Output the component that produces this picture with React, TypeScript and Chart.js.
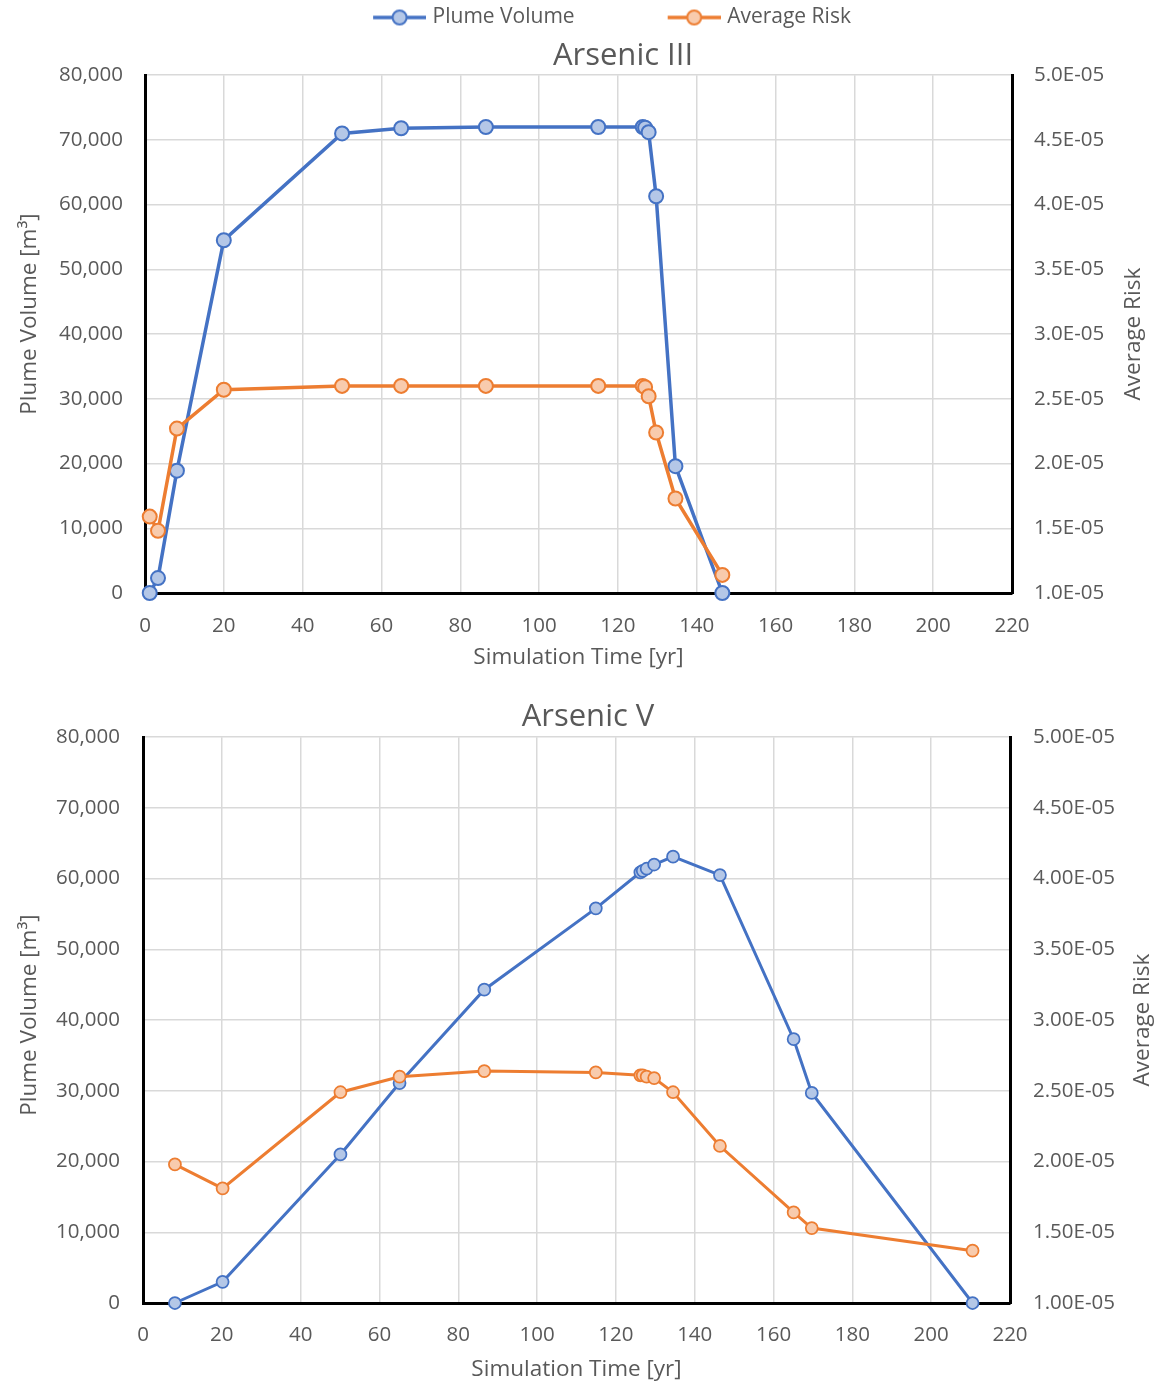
import React, { useEffect, useRef } from 'react';
import { Chart, registerables } from 'chart.js';

Chart.register(...registerables);

// ---------- Data: Arsenic III ----------
const TIME_III = [1.2, 3.3, 8.1, 20, 50, 65, 86.5, 115, 126.3, 126.9, 127.8, 129.7, 134.6, 146.5];
const VOLUME_III = [0, 2300, 18900, 54500, 71000, 71800, 72000, 72000, 72000, 71900, 71200, 61300, 19600, 0];
const RISK_III = [1.59e-5, 1.48e-5, 2.27e-5, 2.57e-5, 2.6e-5, 2.6e-5, 2.6e-5, 2.6e-5, 2.6e-5, 2.59e-5, 2.52e-5, 2.24e-5, 1.73e-5, 1.14e-5];

// ---------- Data: Arsenic V ----------
const TIME_V = [8.1, 20.2, 50.1, 65.1, 86.6, 114.9, 126.2, 126.8, 127.8, 129.7, 134.5, 146.4, 165.1, 169.7, 210.5];
const VOLUME_V = [0, 3000, 21000, 31100, 44300, 55800, 60900, 61100, 61400, 62000, 63100, 60500, 37300, 29700, 0];
const RISK_V = [1.98e-5, 1.81e-5, 2.49e-5, 2.6e-5, 2.64e-5, 2.63e-5, 2.61e-5, 2.61e-5, 2.6e-5, 2.59e-5, 2.49e-5, 2.11e-5, 1.64e-5, 1.53e-5, 1.37e-5];

// ---------- Axis ranges / tick steps ----------
const X_MAX = 220;
const X_STEP = 20;
const VOL_MAX = 80000;
const VOL_STEP = 10000;
const RISK_MIN = 1e-5;
const RISK_MAX = 5e-5;
const RISK_STEP = 5e-6;

const SERIES_NAMES = ['Plume Volume', 'Average Risk'];
const X_TITLE = 'Simulation Time [yr]';
const Y_TITLE = 'Plume Volume [m\u00B3]';
const Y1_TITLE = 'Average Risk';

// ---------- Styles ----------
const TEXT = '#595959';
const GRID = '#D9D9D9';
const BLUE = '#4472C4';
const BLUE_FILL = '#B4C7E7';
const ORANGE = '#ED7D31';
const ORANGE_FILL = '#F8CBAD';
const FONT = '"Open Sans", sans-serif';

function fmtRisk(v: number, d: number) {
  const [m, e] = v.toExponential(d).split('e');
  const n = Number(e);
  return `${m}E${n < 0 ? '-' : '+'}${String(Math.abs(n)).padStart(2, '0')}`;
}

const LEGEND_BOX = 117;
function makeIcon(color: string, fill: string) {
  const width = LEGEND_BOX + 8;
  const c = document.createElement('canvas');
  c.width = width;
  c.height = 20;
  const ctx = c.getContext('2d')!;
  const len = 53;
  const x0 = width - len;
  ctx.strokeStyle = color;
  ctx.lineWidth = 3.5;
  ctx.beginPath();
  ctx.moveTo(x0, 10);
  ctx.lineTo(width, 10);
  ctx.stroke();
  ctx.beginPath();
  ctx.arc(x0 + len / 2, 10, 7, 0, Math.PI * 2);
  ctx.fillStyle = fill;
  ctx.fill();
  ctx.lineWidth = 2;
  ctx.stroke();
  return c;
}

type Setup = {
  time: number[];
  volume: number[];
  risk: number[];
  title: string;
  titleDx: number;
  legend: boolean;
  layoutTop: number;
  titlePad: { top: number; bottom: number };
  riskDecimals: number;
  pointRadius: number;
  pointBorder: number;
  lineWidth: number;
  leftWidth: number;
  rightWidth: number;
  xHeight: number;
  xTickPad: number;
  xTitlePadBottom: number;
  yTickPad: number;
  y1TickPad: number;
  leftTitleOffset: number;
  leftTitleDy: number;
  rightTitleOffset: number;
  rightTitleDy: number;
};

const TOP: Setup = {
  time: TIME_III,
  volume: VOLUME_III,
  risk: RISK_III,
  title: 'Arsenic III',
  titleDx: 45,
  legend: true,
  layoutTop: -18,
  titlePad: { top: 0, bottom: 0 },
  riskDecimals: 1,
  pointRadius: 7,
  pointBorder: 2,
  lineWidth: 3.5,
  leftWidth: 145,
  rightWidth: 144,
  xHeight: 87,
  xTickPad: 21,
  xTitlePadBottom: 9,
  yTickPad: 22,
  y1TickPad: 22,
  leftTitleOffset: 30,
  leftTitleDy: -20,
  rightTitleOffset: 22,
  rightTitleDy: 0,
};

const BOTTOM: Setup = {
  time: TIME_V,
  volume: VOLUME_V,
  risk: RISK_V,
  title: 'Arsenic V',
  titleDx: 10,
  legend: false,
  layoutTop: 0,
  titlePad: { top: 19, bottom: 1 },
  riskDecimals: 2,
  pointRadius: 6,
  pointBorder: 1.75,
  lineWidth: 3,
  leftWidth: 143,
  rightWidth: 146,
  xHeight: 82,
  xTickPad: 20,
  xTitlePadBottom: 2,
  yTickPad: 23,
  y1TickPad: 23,
  leftTitleOffset: 30,
  leftTitleDy: -5,
  rightTitleOffset: 13,
  rightTitleDy: 0,
};

function createChart(canvas: HTMLCanvasElement, s: Setup) {
  const tickFont = { family: FONT, size: 20.5 };
  const titleFont = { family: FONT, size: 22.5 };

  const ds = (label: string, ys: number[], axis: string, color: string, fill: string, order: number) => ({
    label,
    data: s.time.map((t, i) => ({ x: t, y: ys[i] })),
    yAxisID: axis,
    borderColor: color,
    backgroundColor: fill,
    pointBackgroundColor: fill,
    pointBorderColor: color,
    pointRadius: s.pointRadius,
    pointHoverRadius: s.pointRadius,
    pointBorderWidth: s.pointBorder,
    borderWidth: s.lineWidth,
    tension: 0,
    fill: false,
    clip: false as any,
    order,
  });

  const icons = [makeIcon(BLUE, BLUE_FILL), makeIcon(ORANGE, ORANGE_FILL)];

  const titleShift = {
    id: 'titleShift',
    afterLayout(chart: any) {
      const t = chart.titleBlock;
      if (t) {
        t.left += s.titleDx;
        t.right += s.titleDx;
      }
    },
  };

  const axisTitles = {
    id: 'axisTitles',
    beforeDraw(chart: any) {
      const cfg: Record<string, { side: string; offset: number; dy: number }> = {
        y: { side: 'left', offset: s.leftTitleOffset, dy: s.leftTitleDy },
        y1: { side: 'right', offset: s.rightTitleOffset, dy: s.rightTitleDy },
      };
      Object.keys(cfg).forEach((id) => {
        const scale = chart.scales[id];
        if (!scale || scale.__patched) return;
        scale.__patched = true;
        const c = cfg[id];
        scale.drawTitle = function () {
          const ctx = this.ctx as CanvasRenderingContext2D;
          const text = this.options.title.text as string;
          const cy = (this.top + this.bottom) / 2 + c.dy;
          const cx = c.side === 'left' ? this.left + c.offset : this.right - c.offset;
          ctx.save();
          ctx.translate(cx, cy);
          ctx.rotate(-Math.PI / 2);
          ctx.font = `normal ${titleFont.size}px ${FONT}`;
          ctx.fillStyle = TEXT;
          ctx.textAlign = 'center';
          ctx.textBaseline = 'middle';
          ctx.fillText(text, 0, 0);
          ctx.restore();
        };
      });
    },
  };

  return new Chart(canvas, {
    type: 'line',
    data: {
      datasets: [
        ds(SERIES_NAMES[0], s.volume, 'y', BLUE, BLUE_FILL, 2),
        ds(SERIES_NAMES[1], s.risk, 'y1', ORANGE, ORANGE_FILL, 1),
      ] as any,
    },
    options: {
      responsive: false,
      animation: false,
      events: [],
      layout: { padding: { top: s.layoutTop, left: 0, right: 0, bottom: 0 } },
      plugins: {
        legend: {
          display: s.legend,
          position: 'top',
          weight: 3000,
          labels: {
            usePointStyle: true,
            pointStyleWidth: LEGEND_BOX,
            boxHeight: 20,
            padding: 25,
            color: TEXT,
            font: { family: FONT, size: 21 },
            generateLabels: (chart: any) =>
              chart.data.datasets.map((d: any, i: number) => ({
                text: d.label,
                pointStyle: icons[i],
                fillStyle: d.backgroundColor,
                strokeStyle: d.borderColor,
                lineWidth: 0,
                hidden: false,
                datasetIndex: i,
                fontColor: TEXT,
              })),
          },
        },
        title: {
          display: true,
          text: s.title,
          color: TEXT,
          weight: 500,
          font: { family: FONT, size: 31, weight: 'normal' },
          padding: s.titlePad,
        },
        tooltip: { enabled: false },
      },
      scales: {
        x: {
          type: 'linear',
          min: 0,
          max: X_MAX,
          ticks: { stepSize: X_STEP, color: TEXT, font: tickFont, padding: s.xTickPad },
          grid: { color: GRID, lineWidth: 1.5, drawTicks: false },
          border: { color: '#000', width: 3 },
          title: {
            display: true,
            text: X_TITLE,
            color: TEXT,
            font: titleFont,
            padding: { top: 0, bottom: s.xTitlePadBottom },
          },
          afterFit: (sc: any) => {
            sc.height = s.xHeight;
          },
        },
        y: {
          type: 'linear',
          position: 'left',
          min: 0,
          max: VOL_MAX,
          ticks: {
            stepSize: VOL_STEP,
            color: TEXT,
            font: tickFont,
            padding: s.yTickPad,
            callback: (v: any) => Number(v).toLocaleString('en-US'),
          },
          grid: { color: GRID, lineWidth: 1.5, drawTicks: false },
          border: { color: '#000', width: 3 },
          title: { display: true, text: Y_TITLE, color: TEXT, font: titleFont },
          afterFit: (sc: any) => {
            sc.width = s.leftWidth;
          },
        },
        y1: {
          type: 'linear',
          position: 'right',
          min: RISK_MIN,
          max: RISK_MAX,
          ticks: {
            stepSize: RISK_STEP,
            color: TEXT,
            font: tickFont,
            padding: s.y1TickPad,
            callback: (v: any) => fmtRisk(Number(v), s.riskDecimals),
          },
          grid: { display: false, drawTicks: false },
          border: { color: '#000', width: 3 },
          title: { display: true, text: Y1_TITLE, color: TEXT, font: titleFont },
          afterFit: (sc: any) => {
            sc.width = s.rightWidth;
          },
        },
      },
    } as any,
    plugins: [titleShift, axisTitles],
  });
}

export default function App() {
  const topRef = useRef<HTMLCanvasElement>(null);
  const botRef = useRef<HTMLCanvasElement>(null);

  useEffect(() => {
    Chart.defaults.font.family = FONT;
    const a = createChart(topRef.current!, TOP);
    const b = createChart(botRef.current!, BOTTOM);
    return () => {
      a.destroy();
      b.destroy();
    };
  }, []);

  return (
    <div
      style={{
        position: 'absolute',
        left: 0,
        top: 0,
        width: 1156,
        height: 1385,
        background: '#fff',
        overflow: 'hidden',
      }}
    >
      <canvas ref={topRef} width={1156} height={680} style={{ display: 'block' }} />
      <canvas ref={botRef} width={1156} height={705} style={{ display: 'block' }} />
    </div>
  );
}
